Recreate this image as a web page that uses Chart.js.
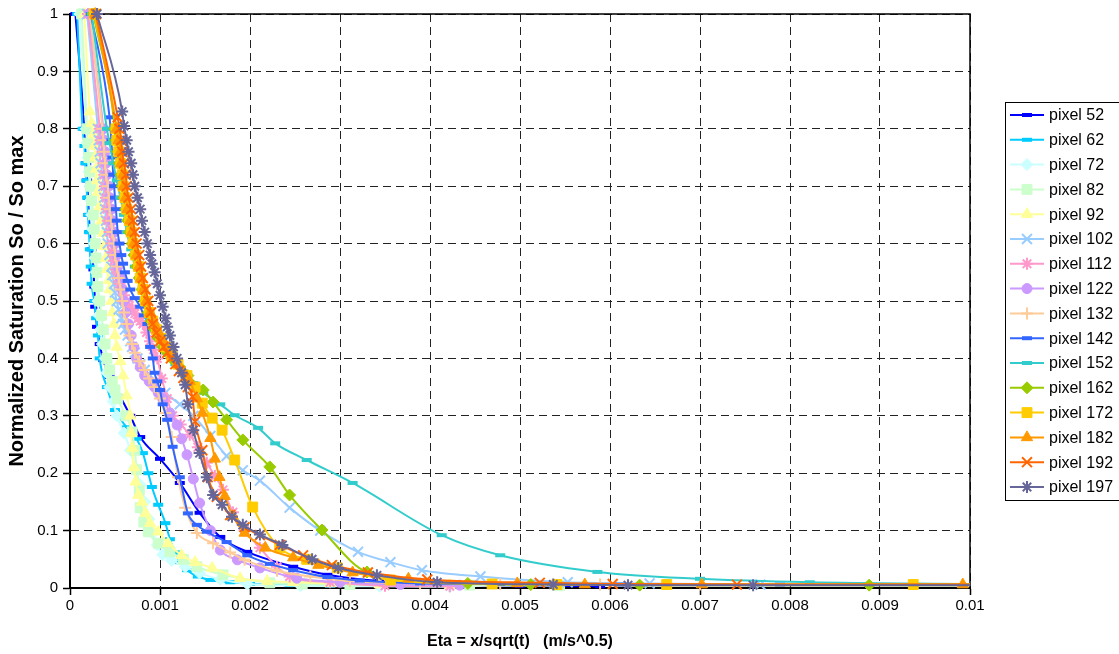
<!DOCTYPE html>
<html>
<head>
<meta charset="utf-8">
<title>Normalized Saturation vs Eta</title>
<script src="https://cdn.jsdelivr.net/npm/chart.js@4.4.0/dist/chart.umd.min.js"></script>
<style>
  html, body { margin: 0; padding: 0; background: #fff; }
  #wrap { width: 1119px; height: 654px; }
</style>
</head>
<body>
<div id="wrap"><canvas id="chart" width="1119" height="654"></canvas></div>
<script>
// legend names
var seriesNames = ['pixel 52', 'pixel 62', 'pixel 72', 'pixel 82', 'pixel 92', 'pixel 102', 'pixel 112', 'pixel 122',
  'pixel 132', 'pixel 142', 'pixel 152', 'pixel 162', 'pixel 172', 'pixel 182', 'pixel 192', 'pixel 197'];

// axis ticks
var etaTicks = [0, 0.001, 0.002, 0.003, 0.004, 0.005, 0.006, 0.007, 0.008, 0.009, 0.01];
var satTicks = [0, 0.1, 0.2, 0.3, 0.4, 0.5, 0.6, 0.7, 0.8, 0.9, 1];

// Eta = x/sqrt(t) (m/s^0.5) and So / So max
var eta52 = [0.00006,0.00016,0.00017,0.00018,0.00019,0.00020,0.00021,0.00022,0.00024,0.00026,0.00027,0.00028,0.00030,0.00033,0.00037,0.00044,0.00056,0.00067,0.00078,0.00100,0.00122,0.00144,0.00167,0.00197,0.00248,0.00286,0.00344,0.00411,0.00500,0.00589];
var sat52 = [1,0.80,0.77,0.74,0.71,0.68,0.65,0.62,0.59,0.555,0.525,0.49,0.455,0.425,0.397,0.368,0.333,0.30,0.263,0.225,0.183,0.131,0.089,0.063,0.037,0.023,0.012,0.007,0.004,0.003];

var eta62 = [0.00008,0.00014,0.00016,0.00017,0.00018,0.00019,0.00020,0.00021,0.00022,0.00023,0.00024,0.00027,0.00029,0.00031,0.00033,0.00041,0.00050,0.00063,0.00074,0.00081,0.00087,0.00091,0.00098,0.00106,0.00111,0.00117,0.00122,0.00130,0.00142,0.00156,0.00178,0.00200,0.00244,0.00289];
var sat62 = [1,0.80,0.77,0.74,0.71,0.68,0.65,0.62,0.59,0.56,0.53,0.50,0.47,0.44,0.40,0.35,0.31,0.28,0.26,0.235,0.20,0.176,0.145,0.113,0.085,0.062,0.045,0.031,0.02,0.014,0.01,0.007,0.005,0.004];

var eta72 = [0.00011,0.00018,0.00019,0.00020,0.00021,0.00022,0.00023,0.00024,0.00025,0.00027,0.00028,0.00029,0.00030,0.00031,0.00032,0.00034,0.00036,0.00039,0.00041,0.00044,0.00048,0.00052,0.00060,0.00067,0.00072,0.00078,0.00083,0.00088,0.00092,0.00097,0.00103,0.00113,0.00128,0.00144,0.00167,0.00197,0.00256,0.00344,0.00422];
var sat72 = [1,0.80,0.775,0.75,0.725,0.70,0.675,0.65,0.625,0.60,0.575,0.55,0.525,0.50,0.475,0.45,0.425,0.40,0.375,0.35,0.325,0.30,0.27,0.24,0.21,0.18,0.15,0.12,0.095,0.075,0.058,0.048,0.037,0.026,0.015,0.007,0.004,0.003,0.002];

var eta82 = [0.00013,0.00019,0.00020,0.00021,0.00022,0.00023,0.00024,0.00026,0.00027,0.00028,0.00029,0.00030,0.00031,0.00033,0.00035,0.00037,0.00039,0.00041,0.00044,0.00047,0.00050,0.00053,0.00062,0.00069,0.00072,0.00074,0.00077,0.00078,0.00082,0.00087,0.00098,0.00111,0.00126,0.00141,0.00170,0.00222,0.00258,0.00311,0.00444,0.00544];
var sat82 = [1,0.80,0.775,0.75,0.725,0.70,0.675,0.65,0.625,0.60,0.575,0.55,0.525,0.50,0.475,0.45,0.425,0.40,0.38,0.36,0.345,0.33,0.30,0.272,0.24,0.206,0.17,0.14,0.115,0.098,0.078,0.063,0.05,0.037,0.023,0.009,0.007,0.006,0.005,0.004];

var eta92 = [0.00016,0.00022,0.00024,0.00026,0.00027,0.00028,0.00029,0.00030,0.00031,0.00033,0.00035,0.00037,0.00038,0.00040,0.00041,0.00043,0.00044,0.00046,0.00047,0.00049,0.00050,0.00052,0.00056,0.00059,0.00063,0.00067,0.00068,0.00069,0.00071,0.00073,0.00076,0.00080,0.00084,0.00089,0.00098,0.00109,0.00124,0.00139,0.00158,0.00189,0.00219,0.00248,0.00289,0.00344,0.00422];
var sat92 = [1,0.83,0.81,0.79,0.77,0.75,0.73,0.71,0.69,0.665,0.64,0.618,0.595,0.575,0.555,0.536,0.52,0.50,0.48,0.46,0.44,0.42,0.395,0.37,0.335,0.30,0.27,0.244,0.21,0.185,0.162,0.15,0.13,0.113,0.098,0.078,0.057,0.045,0.035,0.017,0.012,0.01,0.008,0.006,0.005];

var eta102 = [0.00019,0.00031,0.00032,0.00033,0.00034,0.00036,0.00037,0.00038,0.00039,0.00040,0.00041,0.00042,0.00044,0.00046,0.00047,0.00049,0.00050,0.00052,0.00054,0.00057,0.00059,0.00061,0.00064,0.00067,0.00069,0.00072,0.00075,0.00078,0.00083,0.00089,0.00106,0.00122,0.00137,0.00156,0.00174,0.00192,0.00211,0.00244,0.00278,0.00320,0.00356,0.00391,0.00456,0.00553,0.00644,0.00767];
var sat102 = [1,0.80,0.78,0.76,0.74,0.72,0.70,0.68,0.66,0.64,0.62,0.60,0.58,0.56,0.545,0.53,0.515,0.50,0.485,0.47,0.46,0.45,0.44,0.43,0.42,0.41,0.40,0.39,0.38,0.37,0.34,0.32,0.30,0.265,0.23,0.205,0.187,0.14,0.10,0.063,0.045,0.031,0.02,0.01,0.008,0.006];

var eta112 = [0.00020,0.00033,0.00034,0.00036,0.00037,0.00038,0.00039,0.00040,0.00041,0.00042,0.00044,0.00046,0.00047,0.00049,0.00051,0.00053,0.00055,0.00058,0.00060,0.00063,0.00066,0.00069,0.00072,0.00076,0.00078,0.00081,0.00085,0.00089,0.00093,0.00097,0.00102,0.00108,0.00114,0.00123,0.00133,0.00142,0.00152,0.00161,0.00170,0.00181,0.00194,0.00211,0.00230,0.00244,0.00289,0.00350,0.00422];
var sat112 = [1,0.80,0.78,0.76,0.74,0.72,0.70,0.68,0.66,0.64,0.62,0.60,0.585,0.57,0.555,0.54,0.53,0.52,0.51,0.50,0.492,0.485,0.478,0.47,0.465,0.46,0.445,0.43,0.415,0.40,0.365,0.33,0.30,0.285,0.267,0.245,0.218,0.195,0.171,0.132,0.10,0.07,0.037,0.02,0.01,0.004,0.003];

var eta122 = [0.00021,0.00037,0.00038,0.00039,0.00040,0.00041,0.00043,0.00044,0.00046,0.00047,0.00049,0.00050,0.00052,0.00053,0.00056,0.00058,0.00060,0.00062,0.00065,0.00068,0.00071,0.00074,0.00078,0.00083,0.00088,0.00094,0.00098,0.00103,0.00111,0.00119,0.00124,0.00130,0.00137,0.00144,0.00156,0.00167,0.00186,0.00211,0.00252,0.00300,0.00367,0.00433];
var sat122 = [1,0.80,0.78,0.76,0.74,0.72,0.70,0.68,0.66,0.64,0.62,0.60,0.58,0.56,0.54,0.52,0.50,0.48,0.46,0.44,0.42,0.40,0.385,0.37,0.36,0.35,0.34,0.33,0.305,0.284,0.26,0.232,0.19,0.148,0.10,0.066,0.049,0.035,0.017,0.01,0.006,0.005];

var eta132 = [0.00022,0.00036,0.00037,0.00038,0.00039,0.00040,0.00042,0.00043,0.00044,0.00046,0.00047,0.00049,0.00050,0.00052,0.00054,0.00056,0.00058,0.00060,0.00063,0.00066,0.00069,0.00072,0.00077,0.00083,0.00088,0.00094,0.00100,0.00106,0.00113,0.00120,0.00128,0.00141,0.00159,0.00178,0.00194,0.00230,0.00267,0.00311,0.00389,0.00478,0.00589,0.00700];
var sat132 = [1,0.80,0.78,0.76,0.74,0.72,0.70,0.68,0.66,0.64,0.62,0.60,0.58,0.56,0.54,0.52,0.50,0.48,0.46,0.44,0.425,0.41,0.395,0.38,0.365,0.35,0.33,0.305,0.263,0.193,0.14,0.096,0.078,0.062,0.049,0.03,0.02,0.012,0.008,0.007,0.006,0.006];

var eta142 = [0.00023,0.00044,0.00045,0.00046,0.00047,0.00048,0.00049,0.00050,0.00051,0.00052,0.00053,0.00055,0.00057,0.00059,0.00061,0.00064,0.00067,0.00072,0.00078,0.00082,0.00086,0.00089,0.00092,0.00094,0.00097,0.00100,0.00103,0.00108,0.00114,0.00122,0.00131,0.00141,0.00152,0.00174,0.00197,0.00222,0.00248,0.00286,0.00322,0.00389,0.00478,0.00611,0.00789];
var sat142 = [1,0.82,0.80,0.78,0.75,0.72,0.70,0.68,0.66,0.64,0.62,0.60,0.58,0.565,0.55,0.535,0.52,0.505,0.49,0.475,0.46,0.42,0.40,0.375,0.36,0.345,0.32,0.293,0.246,0.193,0.13,0.11,0.098,0.08,0.057,0.042,0.031,0.019,0.013,0.008,0.007,0.006,0.006];

var eta152 = [0.00024,0.00041,0.00044,0.00048,0.00052,0.00056,0.00060,0.00063,0.00068,0.00072,0.00077,0.00081,0.00084,0.00089,0.00094,0.00100,0.00108,0.00117,0.00128,0.00137,0.00148,0.00167,0.00183,0.00209,0.00228,0.00263,0.00314,0.00413,0.00478,0.00586,0.00700,0.00822,0.01000];
var sat152 = [1,0.80,0.775,0.74,0.71,0.68,0.65,0.62,0.59,0.56,0.54,0.52,0.50,0.47,0.45,0.432,0.41,0.39,0.37,0.357,0.34,0.32,0.301,0.279,0.252,0.223,0.183,0.092,0.057,0.028,0.016,0.01,0.007];

var eta162 = [0.00026,0.00050,0.00051,0.00053,0.00055,0.00057,0.00058,0.00060,0.00062,0.00064,0.00066,0.00069,0.00071,0.00074,0.00077,0.00080,0.00083,0.00087,0.00090,0.00094,0.00098,0.00103,0.00108,0.00113,0.00122,0.00131,0.00148,0.00159,0.00174,0.00192,0.00222,0.00244,0.00280,0.00330,0.00442,0.00512,0.00633,0.00888,0.01000];
var sat162 = [1,0.80,0.78,0.76,0.74,0.72,0.70,0.68,0.66,0.64,0.62,0.60,0.58,0.56,0.54,0.52,0.50,0.48,0.465,0.45,0.435,0.42,0.41,0.40,0.385,0.37,0.345,0.324,0.293,0.258,0.211,0.162,0.101,0.028,0.008,0.006,0.005,0.005,0.005];

var eta172 = [0.00027,0.00051,0.00052,0.00054,0.00056,0.00058,0.00059,0.00061,0.00063,0.00066,0.00068,0.00070,0.00073,0.00076,0.00078,0.00081,0.00084,0.00088,0.00092,0.00096,0.00101,0.00106,0.00113,0.00120,0.00130,0.00139,0.00147,0.00158,0.00169,0.00183,0.00203,0.00233,0.00263,0.00297,0.00356,0.00469,0.00541,0.00663,0.00937,0.01000];
var sat172 = [1,0.80,0.78,0.76,0.74,0.72,0.70,0.68,0.66,0.64,0.62,0.60,0.58,0.56,0.54,0.52,0.50,0.48,0.465,0.45,0.435,0.42,0.405,0.39,0.37,0.35,0.322,0.296,0.275,0.223,0.141,0.07,0.05,0.035,0.014,0.007,0.006,0.006,0.006,0.006];

var eta182 = [0.00028,0.00052,0.00054,0.00056,0.00057,0.00059,0.00060,0.00062,0.00064,0.00067,0.00069,0.00071,0.00074,0.00077,0.00079,0.00082,0.00085,0.00089,0.00093,0.00097,0.00102,0.00107,0.00113,0.00120,0.00127,0.00133,0.00141,0.00147,0.00156,0.00161,0.00166,0.00172,0.00181,0.00194,0.00217,0.00248,0.00276,0.00314,0.00376,0.00497,0.00572,0.00702,0.00992];
var sat182 = [1,0.80,0.78,0.76,0.74,0.72,0.70,0.68,0.66,0.64,0.62,0.60,0.58,0.56,0.54,0.52,0.50,0.48,0.465,0.45,0.435,0.42,0.405,0.39,0.375,0.36,0.33,0.305,0.261,0.225,0.193,0.16,0.125,0.096,0.07,0.053,0.04,0.027,0.016,0.008,0.006,0.006,0.006];

var eta192 = [0.00029,0.00053,0.00055,0.00057,0.00058,0.00060,0.00062,0.00063,0.00065,0.00068,0.00070,0.00072,0.00074,0.00077,0.00079,0.00081,0.00084,0.00087,0.00090,0.00092,0.00096,0.00100,0.00104,0.00108,0.00112,0.00117,0.00121,0.00126,0.00131,0.00136,0.00139,0.00147,0.00153,0.00163,0.00178,0.00194,0.00211,0.00233,0.00259,0.00291,0.00331,0.00397,0.00522,0.00603,0.00741,0.01000];
var sat192 = [1,0.82,0.80,0.78,0.76,0.74,0.72,0.70,0.68,0.66,0.64,0.62,0.60,0.58,0.56,0.54,0.52,0.50,0.48,0.46,0.445,0.43,0.42,0.41,0.40,0.39,0.378,0.366,0.35,0.333,0.29,0.24,0.193,0.159,0.127,0.106,0.092,0.075,0.057,0.04,0.027,0.015,0.009,0.007,0.006,0.006];

var eta197 = [0.00030,0.00058,0.00060,0.00063,0.00065,0.00068,0.00070,0.00072,0.00075,0.00078,0.00080,0.00083,0.00086,0.00089,0.00091,0.00094,0.00097,0.00100,0.00103,0.00106,0.00108,0.00111,0.00115,0.00119,0.00124,0.00128,0.00131,0.00137,0.00144,0.00152,0.00159,0.00169,0.00180,0.00192,0.00211,0.00236,0.00269,0.00298,0.00341,0.00408,0.00537,0.00620,0.00759,0.01000];
var sat197 = [1,0.83,0.805,0.78,0.76,0.74,0.72,0.70,0.68,0.66,0.64,0.62,0.60,0.58,0.565,0.55,0.53,0.51,0.49,0.47,0.455,0.44,0.42,0.40,0.375,0.354,0.32,0.275,0.235,0.193,0.162,0.145,0.124,0.11,0.093,0.075,0.05,0.035,0.022,0.01,0.006,0.005,0.005,0.005];

var etaSeries = [eta52, eta62, eta72, eta82, eta92, eta102, eta112, eta122, eta132, eta142, eta152, eta162, eta172, eta182, eta192, eta197];
var satSeries = [sat52, sat62, sat72, sat82, sat92, sat102, sat112, sat122, sat132, sat142, sat152, sat162, sat172, sat182, sat192, sat197];

// excel-ish palette and markers
var colors = ['#0000FF', '#00CCFF', '#CCFFFF', '#CCFFCC', '#FFFF99', '#99CCFF', '#FF99CC', '#CC99FF',
  '#FFCC99', '#3366FF', '#33CCCC', '#99CC00', '#FFCC00', '#FF9900', '#FF6600', '#666699'];
var markers = [
  {style: 'line', r: 5, bw: 4}, {style: 'line', r: 5, bw: 4}, {style: 'rectRot', r: 6, bw: 1},
  {style: 'rect', r: 7, bw: 1}, {style: 'triangle', r: 6.5, bw: 1}, {style: 'crossRot', r: 7, bw: 2},
  {style: 'star', r: 6, bw: 2}, {style: 'circle', r: 5, bw: 1}, {style: 'cross', r: 6, bw: 2},
  {style: 'line', r: 5, bw: 4}, {style: 'line', r: 5, bw: 4}, {style: 'rectRot', r: 6, bw: 1},
  {style: 'rect', r: 7, bw: 1}, {style: 'triangle', r: 6.5, bw: 1}, {style: 'crossRot', r: 7, bw: 2},
  {style: 'star', r: 6, bw: 2}
];

var FONT = '"Liberation Sans", Arial, Helvetica, sans-serif';

var datasets = seriesNames.map(function(name, i) {
  var pts = etaSeries[i].map(function(x, j) { return {x: x, y: satSeries[i][j]}; });
  var m = markers[i];
  return {
    label: name,
    data: pts,
    showLine: true,
    fill: false,
    borderColor: colors[i],
    backgroundColor: colors[i],
    borderWidth: 2,
    cubicInterpolationMode: 'monotone',
    pointStyle: m.style,
    pointRadius: function(c) { return c.raw && c.raw.x >= 0.00999 ? 0 : m.r; },
    legendRadius: m.r,
    pointBorderWidth: m.bw,
    pointBackgroundColor: colors[i],
    pointBorderColor: colors[i],
    order: seriesNames.length - i,   // later series on top, like excel
    clip: {left: 6, top: 8, right: 0, bottom: 6}
  };
});

// solid frame round the plot area
var plotFrame = {
  id: 'plotFrame',
  beforeDatasetsDraw: function(chart) {
    var a = chart.chartArea, ctx = chart.ctx;
    ctx.save();
    ctx.strokeStyle = '#000';
    ctx.lineWidth = 1.5;
    ctx.strokeRect(a.left, a.top, a.right - a.left, a.bottom - a.top);
    ctx.restore();
  }
};

// boxed legend on the right, line + marker like excel
var boxLegend = {
  id: 'boxLegend',
  afterDraw: function(chart) {
    var ctx = chart.ctx;
    ctx.save();
    ctx.strokeStyle = '#000';
    ctx.lineWidth = 1;
    ctx.strokeRect(1005.5, 102.5, 114, 398);
    ctx.font = '16px ' + FONT;
    ctx.textBaseline = 'middle';
    chart.data.datasets.forEach(function(ds, i) {
      var y = 115 + i * 24.8;
      ctx.strokeStyle = ds.borderColor;
      ctx.lineWidth = 2;
      ctx.beginPath();
      ctx.moveTo(1010, y);
      ctx.lineTo(1044, y);
      ctx.stroke();
      ctx.fillStyle = ds.pointBackgroundColor;
      ctx.strokeStyle = ds.pointBorderColor;
      ctx.lineWidth = ds.pointBorderWidth;
      Chart.helpers.drawPoint(ctx, {pointStyle: ds.pointStyle, radius: ds.legendRadius, borderWidth: ds.pointBorderWidth, rotation: 0}, 1027, y);
      ctx.fillStyle = '#000';
      ctx.fillText(ds.label, 1049, y + 1);
    });
    ctx.restore();
  }
};

new Chart(document.getElementById('chart'), {
  type: 'scatter',
  data: {datasets: datasets},
  plugins: [plotFrame, boxLegend],
  options: {
    responsive: false,
    devicePixelRatio: 1,
    animation: false,
    events: [],
    layout: {padding: {left: 0, right: 149, top: 14, bottom: 0}},
    plugins: {legend: {display: false}, tooltip: {enabled: false}},
    scales: {
      x: {
        type: 'linear',
        min: etaTicks[0],
        max: etaTicks[etaTicks.length - 1],
        afterBuildTicks: function(s) { s.ticks = etaTicks.map(function(v) { return {value: v}; }); },
        afterFit: function(s) { s.height = 66; },
        ticks: {
          color: '#000', padding: 2, maxRotation: 0, autoSkip: false,
          font: {family: FONT, size: 15},
          callback: function(v) { return String(Math.round(v * 1000) / 1000); }
        },
        grid: {color: '#222', lineWidth: 1, tickLength: 7, tickColor: '#000', tickWidth: 1.5},
        border: {color: '#000', width: 2, dash: [8, 5]},
        title: {display: true, text: 'Eta = x/sqrt(t)   (m/s^0.5)', color: '#000',
          font: {family: FONT, size: 16, weight: 'bold'}, padding: {top: 0, bottom: 3}}
      },
      y: {
        type: 'linear',
        min: satTicks[0],
        max: satTicks[satTicks.length - 1],
        afterBuildTicks: function(s) { s.ticks = satTicks.map(function(v) { return {value: v}; }); },
        afterFit: function(s) { s.width = 70; },
        ticks: {
          color: '#000', padding: 5,
          font: {family: FONT, size: 15},
          callback: function(v) { return String(Math.round(v * 10) / 10); }
        },
        grid: {color: '#222', lineWidth: 1, tickLength: 7, tickColor: '#000', tickWidth: 1.5},
        border: {color: '#000', width: 2, dash: [8, 5]},
        title: {display: true, text: 'Normalized Saturation So / So max', color: '#000',
          font: {family: FONT, size: 20, weight: 'bold'}, padding: {top: 5, bottom: 0}}
      }
    }
  }
});
</script>
</body>
</html>
